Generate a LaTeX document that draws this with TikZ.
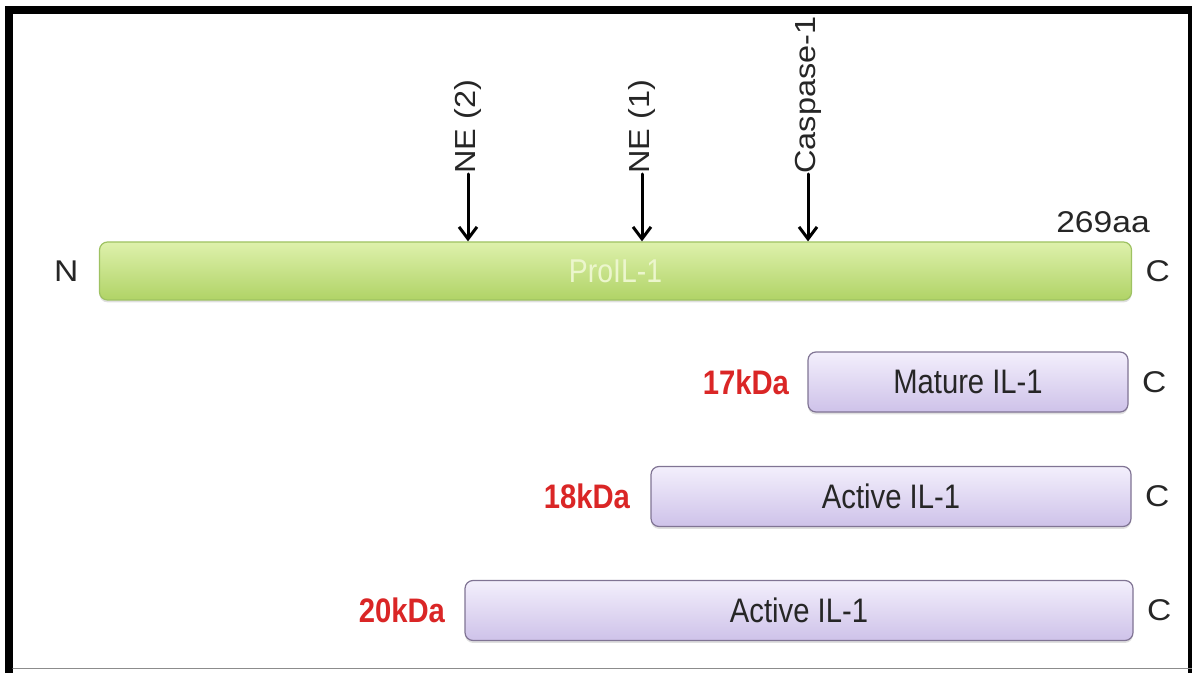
\documentclass[tikz,border=0pt]{standalone}
\usepackage{fontspec}
\setmainfont{Liberation Sans}
\newfontfamily\widefont[FakeStretch=1.12]{Liberation Sans}
\newfontfamily\narrowfont[FakeStretch=0.86]{Liberation Sans}
\usetikzlibrary{positioning,arrows.meta,shadows}

\definecolor{barlight}{RGB}{222,241,172}
\definecolor{bardark}{RGB}{176,211,102}
\definecolor{barline}{RGB}{158,194,98}
\definecolor{protext}{RGB}{236,246,205}
\definecolor{boxlight}{RGB}{243,239,252}
\definecolor{boxdark}{RGB}{206,194,233}
\definecolor{boxline}{RGB}{128,116,148}
\definecolor{kdared}{RGB}{218,38,38}

\tikzset{
    probar/.style={draw=barline, line width=0.6pt, rounded corners=4pt,
        top color=barlight, bottom color=bardark, minimum height=29pt, inner sep=0pt,
        drop shadow={shadow xshift=0pt, shadow yshift=-1.2pt, opacity=0.25},
        text=protext, font=\narrowfont\fontsize{16.5}{18}\selectfont},
    frag/.style={draw=boxline, line width=0.6pt, rounded corners=4pt,
        top color=boxlight, bottom color=boxdark, minimum height=30pt, inner sep=0pt,
        drop shadow={shadow xshift=0pt, shadow yshift=-1.2pt, opacity=0.25},
        text=black!85, font=\narrowfont\fontsize{17}{19}\selectfont},
    lbl/.style={font=\widefont\fontsize{15}{17}\selectfont, text=black!85, inner sep=0pt},
    site/.style={font=\widefont\fontsize{14.5}{17}\selectfont, text=black!85, inner sep=0pt,
        rotate=90, anchor=west},
    kda/.style={font=\narrowfont\bfseries\fontsize{17}{19}\selectfont, text=kdared, inner sep=0pt},
    cut/.style={line width=1.5pt, -{Straight Barb[length=6pt,width=9pt]}}
}

\begin{document}
\begin{tikzpicture}[x=0.5pt,y=-0.5pt,line cap=round]
    \useasboundingbox (0,0) rectangle (1192,673);

    % frame
    \draw[line width=4pt, line cap=butt] (9,673) -- (9,10) -- (1196,10);
    \draw[line width=4pt, line cap=butt] (1192,10) -- (1192,673);
    \draw[black!45, line width=0.6pt] (13,668.5) -- (1192,668.5);

    % precursor
    \node[probar, minimum width=516pt] (pro) at (615.5,271) {ProIL-1};
    \node[lbl, left=10pt of pro] (nterm) {N};
    \node[lbl] (len) at (1103,222) {269aa};

    % cleavage sites
    \foreach \nm/\xx/\txt in {ne2/468/NE (2), ne1/642/NE (1), casp/808/Caspase-1}{
        \node[site] (\nm) at (\xx,174) {\txt};
        \draw[cut] (\nm.west) -- (\nm.west |- pro.north);
    }

    % products
    \node[frag, minimum width=160pt] (mat) at (968,382) {Mature IL-1};
    \node[frag, minimum width=240pt] (act1) at (891,496.5) {Active IL-1};
    \node[frag, minimum width=334pt] (act2) at (799,610.5) {Active IL-1};

    \node[kda, left=9pt of mat] (k17) {17kDa};
    \node[kda, left=10pt of act1] (k18) {18kDa};
    \node[kda, left=9.5pt of act2] (k20) {20kDa};

    \foreach \bx in {pro,mat,act1,act2}{
        \node[lbl, right=6.5pt of \bx] (c\bx) {C};
    }
\end{tikzpicture}
\end{document}
